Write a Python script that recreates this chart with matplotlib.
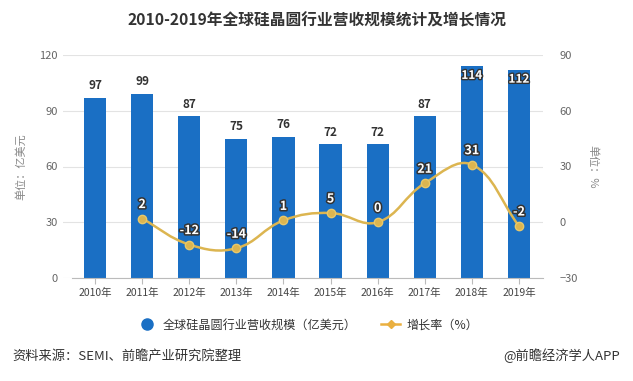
import numpy as np
import matplotlib
matplotlib.use("Agg")
import matplotlib.pyplot as plt
from matplotlib.path import Path
from matplotlib.patches import PathPatch
from matplotlib.lines import Line2D
import matplotlib.patheffects as pe

plt.rcParams['font.family'] = ['Noto Sans CJK SC', 'DejaVu Sans']

years = ["2010年", "2011年", "2012年", "2013年", "2014年", "2015年", "2016年", "2017年", "2018年", "2019年"]
revenue = [97, 99, 87, 75, 76, 72, 72, 87, 114, 112]
growth_years_idx = [1, 2, 3, 4, 5, 6, 7, 8, 9]
growth = [2, -12, -14, 1, 5, 0, 21, 31, -2]

BAR = "#1a6fc4"
LINE = "#dcb550"
TXT = "#666666"

W, H = 633, 381
fig = plt.figure(figsize=(W / 100, H / 100), dpi=100)
left_px, right_px, top_px, bot_px = 63, 542.5, 55, 278
ax = fig.add_axes([left_px / W, 1 - bot_px / H, (right_px - left_px) / W, (bot_px - top_px) / H])
ax2 = ax.twinx()

x = np.arange(len(years))
ext = 0.5 + (71.5 - 63) / 47.1
ax.set_xlim(-ext, len(years) - 0.5)
ax.bar(x, revenue, width=0.47, color=BAR, zorder=2)
ax.set_ylim(0, 120)
ax.set_yticks([0, 30, 60, 90, 120])
ax2.set_ylim(-30, 90)
ax2.set_yticks([-30, 0, 30, 60, 90])
ax.grid(axis='y', color='#e3e3e3', linewidth=0.8, zorder=0)
ax.set_axisbelow(True)

for a in (ax, ax2):
    for s in ('top', 'left', 'right'):
        a.spines[s].set_visible(False)
    a.spines['bottom'].set_visible(False)
ax.spines['bottom'].set_visible(True)
ax.spines['bottom'].set_color('#bbbbbb')
ax.spines['bottom'].set_bounds(-0.5, len(years) - 0.5)

ax.set_xticks(x)
ax.set_xticklabels(years)
ax.tick_params(axis='x', which='major', length=4, color='#bbbbbb', labelsize=7.5, labelcolor='#444444', pad=3)
ax.tick_params(axis='y', length=0, labelsize=8, labelcolor=TXT, pad=4)
ax2.tick_params(axis='y', length=0, labelsize=8, labelcolor=TXT, pad=12)

ax.set_ylabel("单位：亿美元", fontsize=8, color='#888888', labelpad=9)
ax2.set_ylabel("单位：%", fontsize=8, color='#888888', rotation=270, labelpad=15)

# bar labels
for xi, v in zip(x, revenue):
    if v > 105:
        ax.text(xi, v - 1.5, str(v), ha='center', va='top', fontsize=8.5, fontweight='bold',
                color='white', zorder=5,
                path_effects=[pe.withStroke(linewidth=2, foreground='#333333')])
    else:
        ax.text(xi, v + 3, str(v), ha='center', va='bottom', fontsize=8.5, fontweight='bold',
                color='#333333', zorder=5)

# smooth line (bezier through data points)
gx = np.array(growth_years_idx, dtype=float)
gy = np.array(growth, dtype=float)
sx, sy = 47.1, 223 / 120.0  # px per unit for distance weighting
smooth = 0.4
n = len(gx)
verts = [(gx[0], gy[0])]
codes = [Path.MOVETO]
cps = []
for i in range(n):
    prv = max(i - 1, 0)
    nxt = min(i + 1, n - 1)
    vx = (gx[nxt] - gx[prv]) * smooth
    vy = (gy[nxt] - gy[prv]) * smooth
    d0 = np.hypot((gx[i] - gx[prv]) * sx, (gy[i] - gy[prv]) * sy)
    d1 = np.hypot((gx[nxt] - gx[i]) * sx, (gy[nxt] - gy[i]) * sy)
    tot = d0 + d1 if d0 + d1 > 0 else 1
    cin = (gx[i] - vx * d0 / tot, gy[i] - vy * d0 / tot)
    cout = (gx[i] + vx * d1 / tot, gy[i] + vy * d1 / tot)
    cps.append((cin, cout))
for i in range(n - 1):
    verts += [cps[i][1], cps[i + 1][0], (gx[i + 1], gy[i + 1])]
    codes += [Path.CURVE4] * 3
ax2.add_patch(PathPatch(Path(verts, codes), facecolor='none', edgecolor=LINE, linewidth=1.8, zorder=3))
ax2.plot(gx, gy, 'o', color=LINE, markersize=6, markeredgecolor='#e8c86a', zorder=4)
for xi, v in zip(gx, gy):
    ax2.text(xi, v + 4, f"{int(v)}", ha='center', va='bottom', fontsize=9, fontweight='bold',
             color='white', zorder=6,
             path_effects=[pe.withStroke(linewidth=2.2, foreground='#333333')])

fig.text(0.5, 1 - 20 / H, "2010-2019年全球硅晶圆行业营收规模统计及增长情况", ha='center', va='center',
         fontsize=11.3, fontweight='bold', color='#333333')

handles = [Line2D([], [], marker='o', linestyle='none', color=BAR, markersize=8),
           Line2D([], [], marker='D', color='#eab040', markersize=4, linewidth=1.8)]
fig.legend(handles, ["全球硅晶圆行业营收规模（亿美元）", "增长率（%）"], loc='center',
           bbox_to_anchor=(308 / W, 1 - 325 / H), ncol=2, frameon=False, fontsize=8.7,
           handlelength=1.6, handletextpad=0.5, columnspacing=2.0, labelcolor='#333333')

fig.text(12 / W, 1 - 356 / H, "资料来源：SEMI、前瞻产业研究院整理", ha='left', va='center', fontsize=9.5, color='#333333')
fig.text(620 / W, 1 - 356 / H, "@前瞻经济学人APP", ha='right', va='center', fontsize=9.5, color='#333333')

fig.savefig("out.png", dpi=100, facecolor='white')
